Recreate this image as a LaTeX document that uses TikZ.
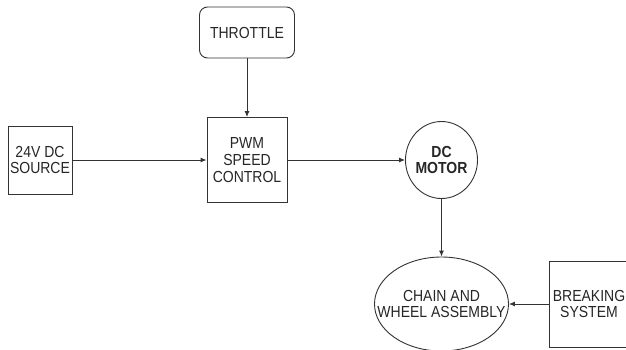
\documentclass[tikz,border=0pt]{standalone}
\usepackage{fontspec}
\setmainfont[FakeStretch=0.875]{Liberation Sans}
\usetikzlibrary{shapes.geometric,arrows.meta}
\begin{document}
\begin{tikzpicture}[x=1pt,y=-1pt,
  blk/.style={draw=black!80,line width=0.9pt,align=center,inner sep=0pt,text=black!85,font=\fontsize{16}{16.7}\selectfont},
  arr/.style={draw=black!80,line width=0.9pt,-{Latex[length=6pt,width=5pt]}}]
\useasboundingbox (0,0) rectangle (626,349);

\node [blk,rounded corners=8pt,minimum width=95pt,minimum height=51pt] (throttle) at (247,32.5) {THROTTLE} ;
\node [blk,minimum width=80pt,minimum height=85pt] (pwm) at (247,160) {PWM\\SPEED\\CONTROL} ;
\node [blk,minimum width=64pt,minimum height=68pt] (source) at (40,160) {24V DC\\SOURCE} ;
\node [blk,ellipse,inner xsep=-1pt,minimum width=72pt,minimum height=77pt,font=\fontsize{16}{16.7}\selectfont\bfseries] (motor) at (441.5,160) {DC\\MOTOR} ;
\node [blk,ellipse,inner xsep=-17pt,minimum width=134pt,minimum height=94pt] (chain) at (441.5,304) {CHAIN AND\\WHEEL ASSEMBLY} ;
\node [blk,minimum width=80pt,minimum height=86pt] (brake) at (589,304) {BREAKING\\SYSTEM} ;

\draw [arr] (throttle) -- (pwm) ;
\draw [arr] (source) -- (pwm) ;
\draw [arr] (pwm) -- (motor) ;
\draw [arr] (motor) -- (chain) ;
\draw [arr] (brake) -- (chain) ;

\end{tikzpicture}
\end{document}
